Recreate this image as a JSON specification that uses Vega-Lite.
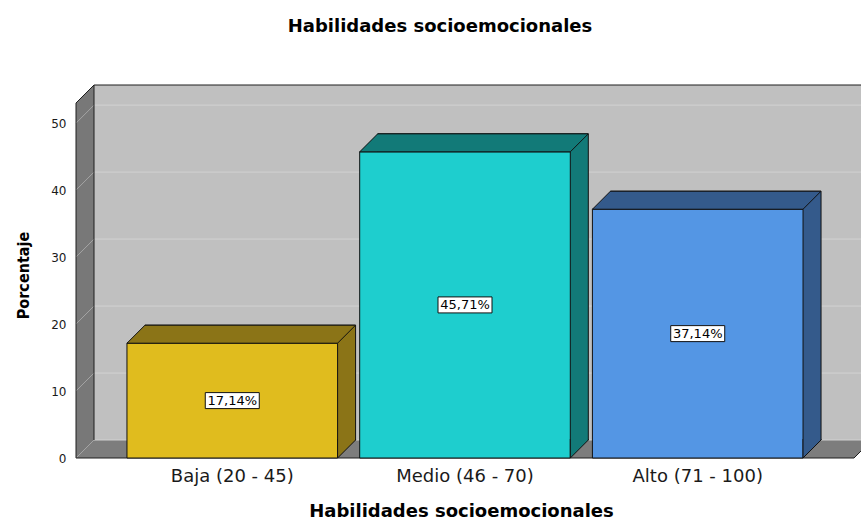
{
  "$schema": "https://vega.github.io/schema/vega-lite/v6.json",
  "width": 778,
  "height": 355,
  "autosize": {"type": "none"},
  "padding": {"left": 76, "top": 103, "right": 7, "bottom": 62},
  "background": "white",
  "title": {"text": "Habilidades socioemocionales", "font": "DejaVu Sans", "fontSize": 18, "fontWeight": "bold", "color": "black", "anchor": "middle", "frame": "group", "dx": -25, "offset": 47},
  "datasets": {
    "bars": [
      {"cat": "Baja (20 - 45)", "value": 17.14, "label": "17,14%"},
      {"cat": "Medio (46 - 70)", "value": 45.71, "label": "45,71%"},
      {"cat": "Alto (71 - 100)", "value": 37.14, "label": "37,14%"}
    ],
    "ticks": [{"t": 0}, {"t": 10}, {"t": 20}, {"t": 30}, {"t": 40}, {"t": 50}],
    "one": [{"k": 1}]
  },
  "config": {
    "view": {"stroke": null},
    "font": "DejaVu Sans",
    "axis": {"grid": false, "ticks": false, "domain": false}
  },
  "resolve": {"scale": {"y": "independent"}},
  "layer": [
    {
      "layer": [
        {
          "data": {"name": "one"},
          "mark": {"type": "point", "shape": "M18,-18 L796,-18 L796,-373 L18,-373 Z", "size": 4, "filled": true, "fill": "#c0c0c0", "strokeWidth": 0, "opacity": 1},
          "encoding": {"x": {"value": 0}, "y": {"datum": 0, "type": "quantitative", "scale": {"domain": [0, 53], "nice": false}}}
        },
        {
          "data": {"name": "one"},
          "mark": {"type": "point", "shape": "M0,0 L0,-355 L18,-373 L18,-18 Z", "size": 4, "filled": true, "fill": "#787878", "strokeWidth": 0, "opacity": 1},
          "encoding": {"x": {"value": 0}, "y": {"datum": 0, "type": "quantitative", "scale": {"domain": [0, 53], "nice": false}}}
        },
        {
          "data": {"name": "one"},
          "mark": {"type": "point", "shape": "M0,0 L778,0 L796,-18 L18,-18 Z", "size": 4, "filled": true, "fill": "#7d7d7d", "strokeWidth": 0, "opacity": 1},
          "encoding": {"x": {"value": 0}, "y": {"datum": 0, "type": "quantitative", "scale": {"domain": [0, 53], "nice": false}}}
        },
        {
          "data": {"name": "ticks"},
          "mark": {"type": "rule", "color": "#d2d2d2", "strokeWidth": 1, "xOffset": 18, "x2Offset": 18, "yOffset": -18, "y2Offset": -18},
          "encoding": {
            "x": {"value": 0},
            "x2": {"value": "width"},
            "y": {"field": "t", "type": "quantitative", "scale": {"domain": [0, 53], "nice": false}},
            "y2": {"field": "t"}
          }
        },
        {
          "data": {"name": "ticks"},
          "mark": {"type": "rule", "color": "#a4a4a4", "strokeWidth": 1, "x2Offset": 18, "y2Offset": -18},
          "encoding": {
            "x": {"value": 0},
            "x2": {"value": 0},
            "y": {"field": "t", "type": "quantitative", "scale": {"domain": [0, 53], "nice": false}},
            "y2": {"field": "t"}
          }
        },
        {
          "data": {"name": "one"},
          "mark": {"type": "point", "shape": "M0,0 L0,-355 L18,-373 L18,-18 M18,-373 L796,-373 M0,0 L778,0 L796,-18", "size": 4, "filled": false, "fill": "transparent", "stroke": "#1e1e1e", "strokeWidth": 1, "opacity": 1},
          "encoding": {"x": {"value": 0}, "y": {"datum": 0, "type": "quantitative", "scale": {"domain": [0, 53], "nice": false}}}
        },
        {
          "data": {"name": "bars"},
          "mark": {"type": "bar", "xOffset": 18, "yOffset": -18, "y2Offset": -18, "stroke": "#111111", "strokeWidth": 1, "opacity": 1},
          "encoding": {
            "x": {"field": "cat", "type": "nominal", "scale": {"domain": ["Baja (20 - 45)", "Medio (46 - 70)", "Alto (71 - 100)"], "paddingInner": 0.095, "paddingOuter": 0.219}},
            "y": {"field": "value", "type": "quantitative", "scale": {"domain": [0, 53], "nice": false}},
            "y2": {"datum": 0},
            "fill": {"field": "cat", "type": "nominal", "scale": {"domain": ["Baja (20 - 45)", "Medio (46 - 70)", "Alto (71 - 100)"], "range": ["#8b7417", "#127a78", "#345a8b"]}, "legend": null}
          }
        },
        {
          "data": {"name": "bars"},
          "mark": {"type": "bar", "stroke": "#111111", "strokeWidth": 1, "opacity": 1},
          "encoding": {
            "x": {
              "field": "cat", "type": "nominal",
              "scale": {"domain": ["Baja (20 - 45)", "Medio (46 - 70)", "Alto (71 - 100)"], "paddingInner": 0.095, "paddingOuter": 0.219},
              "axis": {"title": "Habilidades socioemocionales", "bandPosition": 0.5, "labelAlign": "center", "labelAngle": 0, "labelFontSize": 18, "labelFont": "DejaVu Sans", "labelColor": "#1a1a1a", "labelBaseline": "middle", "labelPadding": 18, "titleFont": "DejaVu Sans", "titleFontSize": 18, "titleFontWeight": "bold", "titleColor": "black", "titlePadding": 17, "titleX": 385}
            },
            "y": {
              "field": "value", "type": "quantitative",
              "scale": {"domain": [0, 53], "nice": false},
              "axis": {"values": [0, 10, 20, 30, 40, 50], "title": "Porcentaje", "labelFontSize": 12, "labelFont": "DejaVu Sans", "labelColor": "#1a1a1a", "labelPadding": 10, "titleFont": "DejaVu Sans Condensed, Liberation Sans, sans-serif", "titleFontSize": 16, "titleFontWeight": "bold", "titleColor": "black", "titleX": -53, "titleY": 172, "titleAngle": -90, "titleAlign": "center", "titleBaseline": "middle"}
            },
            "y2": {"datum": 0},
            "color": {"field": "cat", "type": "nominal", "scale": {"domain": ["Baja (20 - 45)", "Medio (46 - 70)", "Alto (71 - 100)"], "range": ["#e0bc1e", "#1ecece", "#5496e4"]}, "legend": null}
          }
        },
        {
          "data": {"name": "bars"},
          "mark": {"type": "point", "shape": "M-105.3,0 L105.3,0 L123.3,-18 L-87.3,-18 Z", "size": 4, "filled": true, "stroke": "#111111", "strokeWidth": 1, "opacity": 1},
          "encoding": {
            "x": {"field": "cat", "type": "nominal", "scale": {"domain": ["Baja (20 - 45)", "Medio (46 - 70)", "Alto (71 - 100)"], "paddingInner": 0.095, "paddingOuter": 0.219}},
            "y": {"field": "value", "type": "quantitative", "scale": {"domain": [0, 53], "nice": false}},
            "fill": {"field": "cat", "type": "nominal", "scale": {"domain": ["Baja (20 - 45)", "Medio (46 - 70)", "Alto (71 - 100)"], "range": ["#8b7417", "#127a78", "#345a8b"]}, "legend": null}
          }
        },
        {
          "data": {"name": "bars"},
          "mark": {"type": "point", "shape": "M105.3,-19 L105.3,0 L123.3,-18 L123.3,-19", "size": 4, "filled": true, "stroke": "#111111", "strokeWidth": 1, "opacity": 1},
          "encoding": {
            "x": {"field": "cat", "type": "nominal", "scale": {"domain": ["Baja (20 - 45)", "Medio (46 - 70)", "Alto (71 - 100)"], "paddingInner": 0.095, "paddingOuter": 0.219}},
            "y": {"datum": 0, "type": "quantitative", "scale": {"domain": [0, 53], "nice": false}},
            "fill": {"field": "cat", "type": "nominal", "scale": {"domain": ["Baja (20 - 45)", "Medio (46 - 70)", "Alto (71 - 100)"], "range": ["#8b7417", "#127a78", "#345a8b"]}, "legend": null}
          }
        }
      ]
    },
    {
      "data": {"name": "bars"},
      "encoding": {
        "x": {"field": "cat", "type": "nominal", "scale": {"domain": ["Baja (20 - 45)", "Medio (46 - 70)", "Alto (71 - 100)"], "paddingInner": 0.095, "paddingOuter": 0.219}},
        "y": {"field": "value", "type": "quantitative", "scale": {"domain": [0, 106], "nice": false}, "axis": null}
      },
      "layer": [
        {"mark": {"type": "point", "shape": "M-27,-8 L27,-8 L27,8 L-27,8 Z", "size": 4, "filled": true, "fill": "white", "stroke": "#111111", "strokeWidth": 1, "opacity": 1}},
        {"mark": {"type": "text", "font": "DejaVu Sans", "fontSize": 13, "color": "black", "align": "center", "baseline": "middle"}, "encoding": {"text": {"field": "label"}}}
      ]
    }
  ]
}
